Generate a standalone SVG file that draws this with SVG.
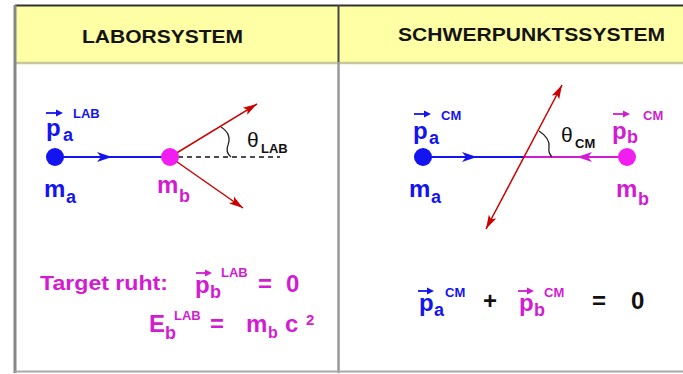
<svg xmlns="http://www.w3.org/2000/svg" width="683" height="374" viewBox="0 0 683 374">
<defs>
<marker id="rh" viewBox="0 0 14 10" refX="14" refY="5" markerWidth="15" markerHeight="10" markerUnits="userSpaceOnUse" orient="auto-start-reverse"><path d="M0,0.8 L14,5 L0,9.2 L3,5 z" fill="#cc0000"/></marker>
</defs>
<style>
text{font-family:"Liberation Sans",Arial,Helvetica,sans-serif;font-weight:bold}
.hdr{font-size:18px;fill:#141414}
.big{font-size:24px}
.sub{font-size:18px}
.sup{font-size:13px}
.blue{fill:#1414f0}
.mag{fill:#d21cd2}
.blk{fill:#111}
.th{font-size:21px;font-weight:normal;fill:#111}
.vb{stroke:#1414f0;stroke-width:1.8;fill:none}
.vm{stroke:#d21cd2;stroke-width:1.8;fill:none}
.red{stroke:#cc0000;stroke-width:1.5;fill:none}
</style>

<g id="frame">
<rect x="15" y="5" width="668" height="57" fill="#ffffa6"/>
<line x1="15" y1="63" x2="683" y2="63" stroke="#c8c89a" stroke-width="2.5"/>
<line x1="15" y1="5.5" x2="683" y2="5.5" stroke="#333" stroke-width="2"/>
<line x1="15" y1="5" x2="15" y2="373" stroke="#888" stroke-width="3"/>
<line x1="338.5" y1="5" x2="338.5" y2="62" stroke="#444" stroke-width="2"/>
<line x1="338.5" y1="62" x2="338.5" y2="373" stroke="#999" stroke-width="2.5"/>
<line x1="15" y1="371.5" x2="683" y2="371.5" stroke="#aaa" stroke-width="2"/>
</g>

<g id="header-lab"><text class="hdr" x="82" y="43" textLength="161" lengthAdjust="spacingAndGlyphs">LABORSYSTEM</text></g>
<g id="header-cm"><text class="hdr" x="398" y="41" textLength="267" lengthAdjust="spacingAndGlyphs">SCHWERPUNKTSSYSTEM</text></g>

<g id="connectors">
<line x1="55" y1="157" x2="170" y2="157" stroke="#1414f0" stroke-width="2"/>
<path d="M97,152 L112,157 L97,162 L101,157 z" fill="#1414f0"/>
<line x1="178" y1="157" x2="280" y2="157" stroke="#111" stroke-width="1.6" stroke-dasharray="5,4"/>
<line x1="170" y1="157" x2="257" y2="104" class="red" marker-end="url(#rh)"/>
<line x1="170" y1="157" x2="243" y2="208" class="red" marker-end="url(#rh)"/>
<path d="M221,127 Q232,134 228,145 Q225,152 231,157" stroke="#222" stroke-width="1.3" fill="none"/>
<line x1="423" y1="157" x2="524" y2="157" stroke="#1414f0" stroke-width="2"/>
<path d="M462,152 L477,157 L462,162 L466,157 z" fill="#1414f0"/>
<line x1="524" y1="157" x2="627" y2="157" stroke="#d21cd2" stroke-width="2"/>
<path d="M592,152 L577,157 L592,162 L588,157 z" fill="#d21cd2"/>
<line x1="486" y1="229" x2="562" y2="85" class="red" marker-start="url(#rh)" marker-end="url(#rh)"/>
<path d="M539,131 Q550,138 549,147 Q548,153 552,157" stroke="#222" stroke-width="1.3" fill="none"/>
</g>

<g id="lab-ma">
<circle cx="55" cy="157" r="9" fill="#1414f0"/>
<text class="big blue" x="44" y="197">m</text><text class="sub blue" x="66" y="203">a</text>
</g>
<g id="lab-pa">
<path d="M46,113 L60,113" class="vb"/><path d="M56,109.5 L63,113 L56,116.5 z" fill="#1414f0"/>
<text class="big blue" x="46" y="136">p</text><text class="sub blue" x="63" y="141">a</text>
<text class="sup blue" x="73" y="118">LAB</text>
</g>
<g id="lab-mb">
<circle cx="170" cy="157" r="9" fill="#f01ef0"/>
<text class="big mag" x="157" y="193">m</text><text class="sub mag" x="179" y="202">b</text>
</g>
<g id="lab-theta">
<text class="th" x="247" y="147">θ</text><text class="sup blk" x="261" y="153">LAB</text>
</g>

<g id="cm-ma">
<circle cx="423" cy="157" r="9" fill="#1414f0"/>
<text class="big blue" x="409" y="197">m</text><text class="sub blue" x="431" y="203">a</text>
</g>
<g id="cm-pa">
<path d="M414,114 L428,114" class="vb"/><path d="M424,110.5 L431,114 L424,117.5 z" fill="#1414f0"/>
<text class="big blue" x="413" y="139">p</text><text class="sub blue" x="429" y="144">a</text>
<text class="sup blue" x="441" y="120">CM</text>
</g>
<g id="cm-mb">
<circle cx="627" cy="157" r="9" fill="#f01ef0"/>
<text class="big mag" x="616" y="197">m</text><text class="sub mag" x="638" y="205">b</text>
</g>
<g id="cm-pb">
<path d="M613,114 L627,114" class="vm"/><path d="M623,110.5 L630,114 L623,117.5 z" fill="#d21cd2"/>
<text class="big mag" x="612" y="139">p</text><text class="sub mag" x="627" y="143">b</text>
<text class="sup mag" x="643" y="120">CM</text>
</g>
<g id="cm-theta">
<text class="th" x="561" y="142">θ</text><text class="sup blk" x="575" y="148">CM</text>
</g>

<g id="lab-eq">
<text class="mag" style="font-size:21px" x="40" y="290" textLength="128" lengthAdjust="spacingAndGlyphs">Target ruht:</text>
<path d="M196,273 L209,273" class="vm"/><path d="M205,269.5 L212,273 L205,276.5 z" fill="#d21cd2"/>
<text class="big mag" x="195" y="293">p</text><text class="sub mag" x="210" y="298">b</text>
<text class="sup mag" x="221" y="277">LAB</text>
<text class="big mag" x="258" y="292">=</text>
<text class="big mag" x="286" y="292">0</text>
<text class="big mag" x="149" y="332">E</text><text class="sub mag" x="165" y="339">b</text>
<text class="sup mag" x="174" y="320">LAB</text>
<text class="big mag" x="210" y="332">=</text>
<text class="big mag" x="246" y="332">m</text><text class="sub mag" style="font-size:16px" x="268" y="338">b</text>
<text class="big mag" x="285" y="332">c</text>
<text class="sup mag" style="font-size:15px" x="306" y="325">2</text>
</g>

<g id="cm-eq">
<path d="M418,291 L431,291" class="vb"/><path d="M427,287.5 L434,291 L427,294.5 z" fill="#1414f0"/>
<text class="big blue" x="419" y="311">p</text><text class="sub blue" x="434" y="316">a</text>
<text class="sup blue" x="445" y="297">CM</text>
<text class="big blk" x="483" y="309">+</text>
<path d="M518,291 L531,291" class="vm"/><path d="M527,287.5 L534,291 L527,294.5 z" fill="#d21cd2"/>
<text class="big mag" x="519" y="311">p</text><text class="sub mag" x="534" y="316">b</text>
<text class="sup mag" x="544" y="297">CM</text>
<text class="big blk" x="592" y="309">=</text>
<text class="big blk" x="631" y="309">0</text>
</g>
</svg>
